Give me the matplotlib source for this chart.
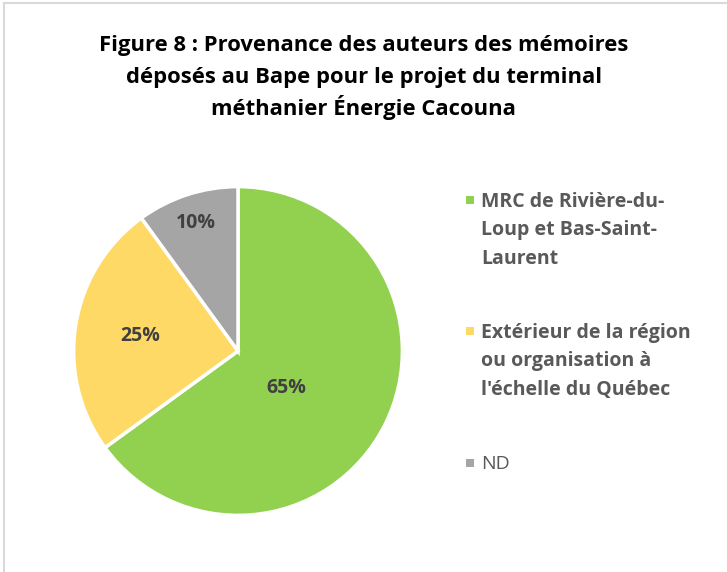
import numpy as np
import matplotlib.pyplot as plt
from matplotlib.lines import Line2D
from matplotlib.patches import Rectangle

plt.rcParams['font.family'] = ['Open Sans', 'DejaVu Sans']

labels = ['MRC de Rivière-du-\nLoup et Bas-Saint-\nLaurent',
          'Extérieur de la région\nou organisation à\nl\'échelle du Québec',
          'ND']
values = [65, 25, 10]
colors = ['#92D050', '#FFD966', '#A5A5A5']

fig = plt.figure(figsize=(7.27, 5.72), dpi=100)
W, H = 727, 572

# pie area
ax = fig.add_axes([72 / W, 1 - 517 / H, 332 / W, 332 / H])
wedges, texts = ax.pie(values, colors=colors, startangle=90, counterclock=False,
                       wedgeprops=dict(edgecolor='white', linewidth=2.5))
ax.set_xlim(-1.01, 1.01)
ax.set_ylim(-1.01, 1.01)
ax.set_aspect('equal')

# percentage labels: distance from centre (fraction of radius) and angle nudge
label_r = [0.37, 0.6, 0.82]
label_dang = [-10, 0, 0]
ang = 90.0
for v, r, da in zip(values, label_r, label_dang):
    mid = np.deg2rad(ang - v * 3.6 / 2 + da)
    ax.text(r * np.cos(mid), r * np.sin(mid), f'{v}%', ha='center', va='center',
            fontsize=14, fontweight='bold', color='#404040')
    ang -= v * 3.6

title_lines = ['Figure 8 : Provenance des auteurs des mémoires',
               'déposés au Bape pour le projet du terminal',
               'méthanier Énergie Cacouna']
for i, line in enumerate(title_lines):
    fig.text(0.5, 1 - (46 + 31 * i) / H, line, ha='center', va='center',
             fontsize=15.8, fontweight='bold', color='black')

# legend drawn by hand so the marker sits on the first line
legend_y = [200, 331, 463]
weights = ['bold', 'bold', 'normal']
for lab, c, y, wgt in zip(labels, colors, legend_y, weights):
    fig.add_artist(Rectangle((466 / W, 1 - (y + 4) / H), 8 / W, 8 / H,
                             facecolor=c, edgecolor='none', transform=fig.transFigure))
    fig.text(481 / W, 1 - (y - 8) / H, lab, ha='left', va='top', fontsize=14,
             fontweight=wgt, color='#595959', linespacing=1.55)

# chart border (left and top visible)
fig.add_artist(Line2D([4 / W, 4 / W], [0, 1 - 3 / H], color='#D9D9D9', lw=1.5,
                      transform=fig.transFigure))
fig.add_artist(Line2D([4 / W, 1], [1 - 3 / H, 1 - 3 / H], color='#D9D9D9', lw=1.5,
                      transform=fig.transFigure))

fig.savefig('out.png', dpi=100)
